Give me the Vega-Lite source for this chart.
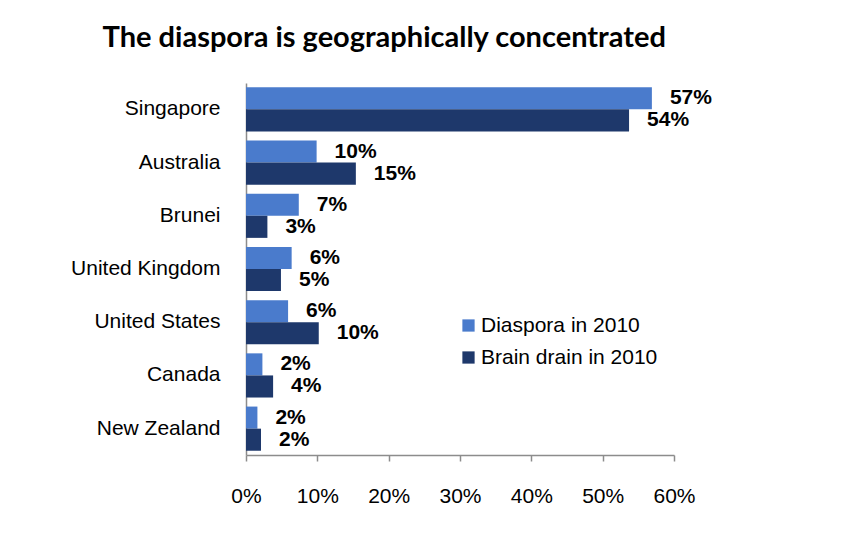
{
  "$schema": "https://vega.github.io/schema/vega-lite/v6.json",
  "width": 428,
  "height": 372,
  "autosize": {"type": "none"},
  "padding": {"left": 246, "top": 83, "right": 192, "bottom": 104},
  "background": "white",
  "title": {
    "text": "The diaspora is geographically concentrated",
    "anchor": "start",
    "frame": "bounds",
    "dx": 32,
    "offset": 30,
    "font": "Lato",
    "fontSize": 29,
    "fontWeight": "bold",
    "color": "#000000"
  },
  "config": {"view": {"stroke": null}},
  "data": {
    "values": [
      {"country": "Singapore", "series": "Diaspora in 2010", "value": 0.569},
      {"country": "Singapore", "series": "Brain drain in 2010", "value": 0.537},
      {"country": "Australia", "series": "Diaspora in 2010", "value": 0.099},
      {"country": "Australia", "series": "Brain drain in 2010", "value": 0.154},
      {"country": "Brunei", "series": "Diaspora in 2010", "value": 0.074},
      {"country": "Brunei", "series": "Brain drain in 2010", "value": 0.030},
      {"country": "United Kingdom", "series": "Diaspora in 2010", "value": 0.064},
      {"country": "United Kingdom", "series": "Brain drain in 2010", "value": 0.049},
      {"country": "United States", "series": "Diaspora in 2010", "value": 0.059},
      {"country": "United States", "series": "Brain drain in 2010", "value": 0.102},
      {"country": "Canada", "series": "Diaspora in 2010", "value": 0.023},
      {"country": "Canada", "series": "Brain drain in 2010", "value": 0.038},
      {"country": "New Zealand", "series": "Diaspora in 2010", "value": 0.016},
      {"country": "New Zealand", "series": "Brain drain in 2010", "value": 0.021}
    ]
  },
  "encoding": {
    "y": {
      "field": "country",
      "type": "nominal",
      "sort": ["Singapore", "Australia", "Brunei", "United Kingdom", "United States", "Canada", "New Zealand"],
      "scale": {"paddingInner": 0.17, "paddingOuter": 0.08},
      "axis": {
        "title": null,
        "domainColor": "#8c8c8c",
        "domainWidth": 1.5,
        "ticks": false,
        "labelPadding": 26,
        "labelFont": "Liberation Sans",
        "labelFontSize": 21,
        "labelLimit": 300,
        "labelColor": "#000000"
      }
    },
    "yOffset": {
      "field": "series",
      "type": "nominal",
      "sort": ["Diaspora in 2010", "Brain drain in 2010"]
    },
    "x": {
      "field": "value",
      "type": "quantitative",
      "scale": {"domain": [0, 0.6], "nice": false},
      "axis": {
        "title": null,
        "format": ".0%",
        "values": [0, 0.1, 0.2, 0.3, 0.4, 0.5, 0.6],
        "grid": false,
        "labelFlush": false,
        "labelOverlap": false,
        "domainColor": "#8c8c8c",
        "domainWidth": 1.5,
        "tickColor": "#8c8c8c",
        "tickWidth": 1.5,
        "tickSize": 6,
        "labelPadding": 24,
        "labelFont": "Liberation Sans",
        "labelFontSize": 21,
        "labelColor": "#000000"
      }
    }
  },
  "layer": [
    {
      "mark": {"type": "bar"},
      "encoding": {
        "color": {
          "field": "series",
          "type": "nominal",
          "sort": ["Diaspora in 2010", "Brain drain in 2010"],
          "scale": {"domain": ["Diaspora in 2010", "Brain drain in 2010"], "range": ["#4a7bcc", "#1e386b"]},
          "legend": {
            "title": null,
            "orient": "none",
            "legendX": 212,
            "legendY": 232,
            "symbolType": "square",
            "symbolSize": 150,
            "symbolStrokeWidth": 0,
            "labelFont": "Liberation Sans",
            "labelFontSize": 21,
            "labelLimit": 300,
            "labelColor": "#000000",
            "labelOffset": 2,
            "rowPadding": 10
          }
        }
      }
    },
    {
      "mark": {
        "type": "text",
        "align": "left",
        "baseline": "middle",
        "dx": 18,
        "font": "Liberation Sans",
        "fontSize": 21,
        "fontWeight": "bold",
        "color": "#000000"
      },
      "encoding": {
        "text": {"field": "value", "type": "quantitative", "format": ".0%"}
      }
    }
  ]
}
